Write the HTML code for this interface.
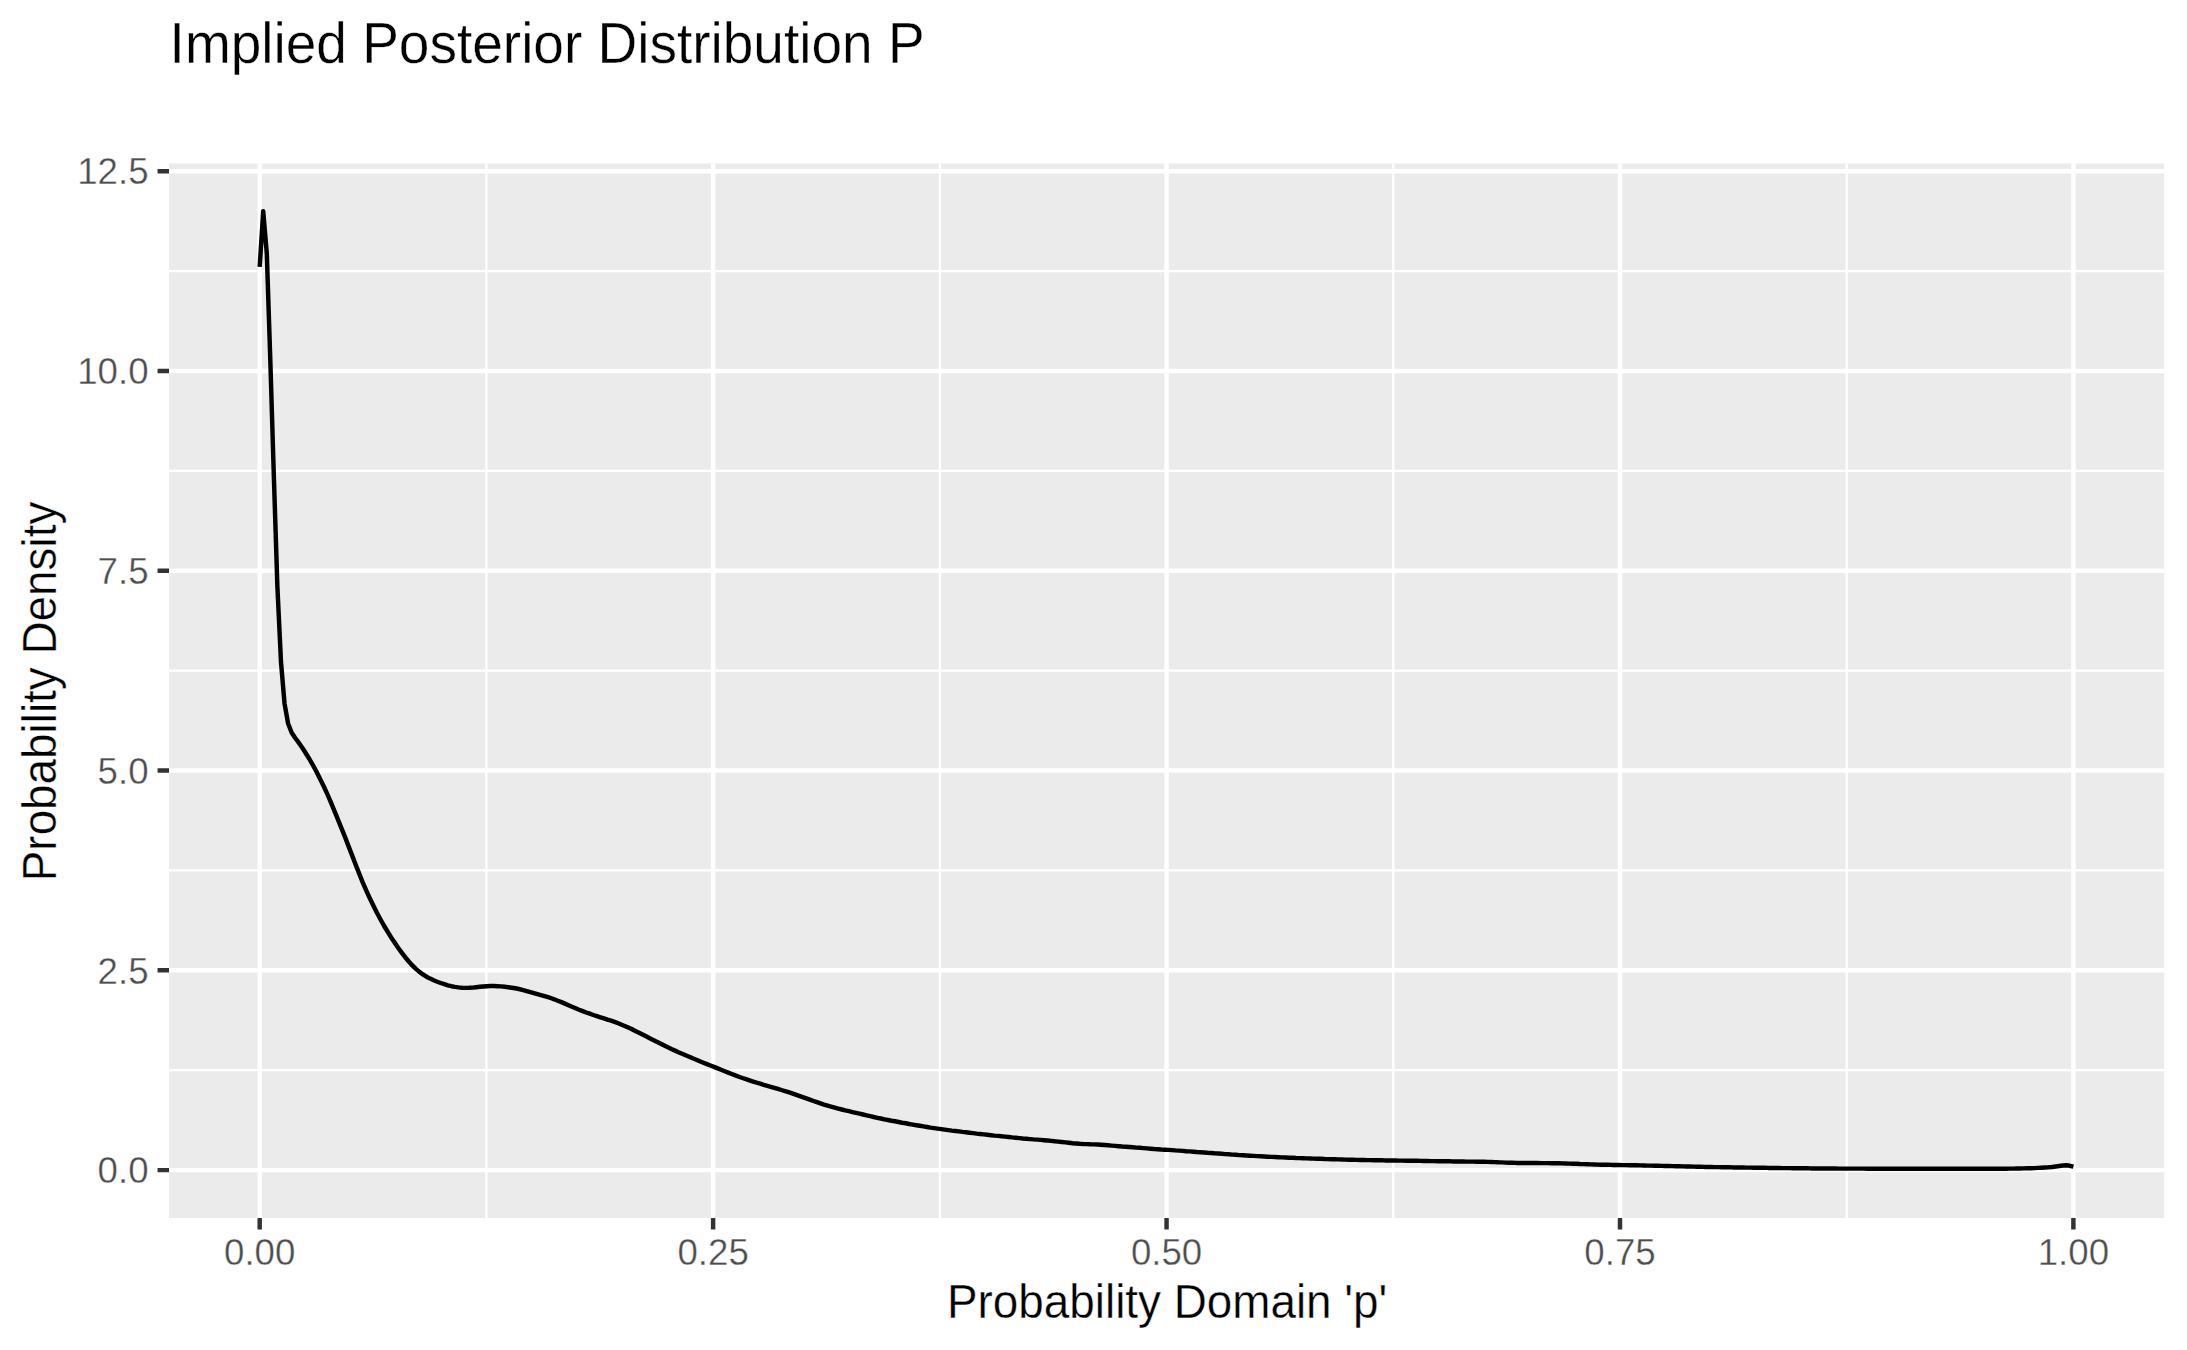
<!DOCTYPE html>
<html lang="en"><head><meta charset="utf-8"><title>Implied Posterior Distribution P</title>
<style>
html,body{margin:0;padding:0;background:#fff;}
svg{display:block;font-family:"Liberation Sans",sans-serif;}
</style></head><body>
<svg width="2187" height="1350" viewBox="0 0 2187 1350">
<rect width="2187" height="1350" fill="#fff"/>
<rect x="169.0" y="163.5" width="1995.1" height="1054.5" fill="#EBEBEB"/>
<path d="M169.0,1070.21H2164.1M169.0,870.43H2164.1M169.0,670.65H2164.1M169.0,470.87H2164.1M169.0,271.09H2164.1M486.41,163.5V1218.0M939.84,163.5V1218.0M1393.26,163.5V1218.0M1846.69,163.5V1218.0" stroke="#fff" stroke-width="2.22" fill="none"/>
<path d="M169.0,1170.10H2164.1M169.0,970.32H2164.1M169.0,770.54H2164.1M169.0,570.76H2164.1M169.0,370.98H2164.1M169.0,171.20H2164.1M259.70,163.5V1218.0M713.12,163.5V1218.0M1166.55,163.5V1218.0M1619.98,163.5V1218.0M2073.40,163.5V1218.0" stroke="#fff" stroke-width="4.45" fill="none"/>
<path d="M259.7,266.8 263.2,211.2 266.8,253.5 270.3,360.0 273.9,478.0 277.4,587.0 281.0,662.0 284.5,703.3 288.1,723.5 291.6,732.5 295.2,738.0 298.7,742.7 302.3,747.7 305.8,753.3 309.4,759.0 312.9,765.1 316.5,771.7 320.0,778.7 323.6,786.0 327.1,793.7 330.7,801.9 334.2,810.4 337.8,819.1 341.3,827.8 344.9,836.7 348.4,845.9 352.0,855.1 355.5,864.3 359.1,873.4 362.6,882.1 366.2,890.4 369.7,898.1 373.3,905.4 376.8,912.5 380.4,919.2 383.9,925.5 387.5,931.5 391.0,937.2 394.6,942.6 398.1,947.7 401.7,952.6 405.2,957.2 408.8,961.5 412.3,965.4 415.9,968.9 419.4,971.9 423.0,974.5 426.5,976.7 430.1,978.6 433.6,980.3 437.2,981.7 440.7,983.0 444.3,984.2 447.8,985.3 451.4,986.2 454.9,986.9 458.5,987.4 462.0,987.7 465.6,987.9 469.1,987.8 472.7,987.6 476.2,987.2 479.8,986.8 483.3,986.5 486.9,986.2 490.4,986.0 494.0,986.0 497.5,986.2 501.1,986.4 504.6,986.8 508.2,987.2 511.7,987.7 515.3,988.3 518.8,989.0 522.3,989.9 525.9,990.9 529.4,991.9 533.0,992.9 536.5,993.8 540.1,994.8 543.6,995.8 547.2,996.8 550.7,998.0 554.3,999.3 557.8,1000.7 561.4,1002.1 564.9,1003.6 568.5,1005.2 572.0,1006.7 575.6,1008.2 579.1,1009.7 582.7,1011.1 586.2,1012.5 589.8,1013.7 593.3,1015.0 596.9,1016.2 600.4,1017.3 604.0,1018.4 607.5,1019.6 611.1,1020.7 614.6,1021.9 618.2,1023.3 621.7,1024.7 625.3,1026.2 628.8,1027.8 632.4,1029.4 635.9,1031.2 639.5,1033.0 643.0,1034.8 646.6,1036.6 650.1,1038.4 653.7,1040.2 657.2,1041.9 660.8,1043.7 664.3,1045.5 667.9,1047.3 671.4,1049.0 675.0,1050.6 678.5,1052.2 682.1,1053.7 685.6,1055.2 689.2,1056.7 692.7,1058.3 696.3,1059.7 699.8,1061.2 703.4,1062.7 706.9,1064.1 710.5,1065.5 714.0,1066.9 717.6,1068.4 721.1,1069.8 724.7,1071.2 728.2,1072.6 731.8,1074.0 735.3,1075.3 738.9,1076.7 742.4,1078.0 746.0,1079.2 749.5,1080.4 753.1,1081.6 756.6,1082.7 760.2,1083.7 763.7,1084.8 767.3,1085.8 770.8,1086.8 774.4,1087.8 777.9,1088.9 781.4,1090.0 785.0,1091.1 788.5,1092.2 792.1,1093.4 795.6,1094.6 799.2,1095.9 802.7,1097.1 806.3,1098.4 809.8,1099.7 813.4,1101.0 816.9,1102.2 820.5,1103.4 824.0,1104.6 827.6,1105.7 831.1,1106.7 834.7,1107.7 838.2,1108.6 841.8,1109.5 845.3,1110.4 848.9,1111.2 852.4,1112.1 856.0,1112.9 859.5,1113.7 863.1,1114.5 866.6,1115.3 870.2,1116.1 873.7,1117.0 877.3,1117.8 880.8,1118.5 884.4,1119.3 887.9,1120.0 891.5,1120.7 895.0,1121.3 898.6,1122.0 902.1,1122.7 905.7,1123.3 909.2,1124.0 912.8,1124.6 916.3,1125.2 919.9,1125.8 923.4,1126.4 927.0,1127.0 930.5,1127.6 934.1,1128.1 937.6,1128.6 941.2,1129.1 944.7,1129.6 948.3,1130.1 951.8,1130.6 955.4,1131.0 958.9,1131.4 962.5,1131.9 966.0,1132.3 969.6,1132.7 973.1,1133.1 976.7,1133.6 980.2,1134.0 983.8,1134.4 987.3,1134.8 990.9,1135.2 994.4,1135.6 998.0,1135.9 1001.5,1136.3 1005.1,1136.6 1008.6,1137.0 1012.2,1137.4 1015.7,1137.7 1019.3,1138.1 1022.8,1138.5 1026.4,1138.8 1029.9,1139.1 1033.5,1139.4 1037.0,1139.6 1040.5,1139.9 1044.1,1140.2 1047.6,1140.5 1051.2,1140.9 1054.7,1141.3 1058.3,1141.6 1061.8,1142.0 1065.4,1142.4 1068.9,1142.8 1072.5,1143.2 1076.0,1143.5 1079.6,1143.8 1083.1,1144.0 1086.7,1144.1 1090.2,1144.3 1093.8,1144.4 1097.3,1144.5 1100.9,1144.7 1104.4,1145.0 1108.0,1145.3 1111.5,1145.6 1115.1,1145.9 1118.6,1146.2 1122.2,1146.5 1125.7,1146.7 1129.3,1147.0 1132.8,1147.3 1136.4,1147.6 1139.9,1147.8 1143.5,1148.1 1147.0,1148.4 1150.6,1148.7 1154.1,1149.0 1157.7,1149.2 1161.2,1149.5 1164.8,1149.7 1168.3,1149.9 1171.9,1150.1 1175.4,1150.4 1179.0,1150.6 1182.5,1150.9 1186.1,1151.2 1189.6,1151.4 1193.2,1151.7 1196.7,1152.0 1200.3,1152.2 1203.8,1152.5 1207.4,1152.8 1210.9,1153.0 1214.5,1153.3 1218.0,1153.5 1221.6,1153.8 1225.1,1154.1 1228.7,1154.3 1232.2,1154.6 1235.8,1154.8 1239.3,1155.1 1242.9,1155.3 1246.4,1155.5 1250.0,1155.7 1253.5,1155.9 1257.1,1156.1 1260.6,1156.3 1264.2,1156.5 1267.7,1156.7 1271.3,1156.9 1274.8,1157.0 1278.4,1157.2 1281.9,1157.4 1285.5,1157.5 1289.0,1157.7 1292.6,1157.8 1296.1,1158.0 1299.6,1158.1 1303.2,1158.2 1306.7,1158.4 1310.3,1158.5 1313.8,1158.6 1317.4,1158.7 1320.9,1158.8 1324.5,1159.0 1328.0,1159.1 1331.6,1159.2 1335.1,1159.3 1338.7,1159.4 1342.2,1159.5 1345.8,1159.6 1349.3,1159.7 1352.9,1159.8 1356.4,1159.9 1360.0,1160.0 1363.5,1160.0 1367.1,1160.1 1370.6,1160.1 1374.2,1160.2 1377.7,1160.3 1381.3,1160.3 1384.8,1160.4 1388.4,1160.4 1391.9,1160.5 1395.5,1160.5 1399.0,1160.6 1402.6,1160.6 1406.1,1160.7 1409.7,1160.7 1413.2,1160.8 1416.8,1160.8 1420.3,1160.9 1423.9,1161.0 1427.4,1161.0 1431.0,1161.1 1434.5,1161.1 1438.1,1161.2 1441.6,1161.2 1445.2,1161.3 1448.7,1161.3 1452.3,1161.4 1455.8,1161.4 1459.4,1161.5 1462.9,1161.5 1466.5,1161.6 1470.0,1161.6 1473.6,1161.6 1477.1,1161.7 1480.7,1161.7 1484.2,1161.8 1487.8,1161.9 1491.3,1162.0 1494.9,1162.1 1498.4,1162.3 1502.0,1162.4 1505.5,1162.6 1509.1,1162.7 1512.6,1162.8 1516.2,1162.9 1519.7,1162.9 1523.3,1162.9 1526.8,1163.0 1530.4,1163.0 1533.9,1163.0 1537.5,1163.0 1541.0,1163.1 1544.6,1163.1 1548.1,1163.1 1551.7,1163.2 1555.2,1163.2 1558.7,1163.3 1562.3,1163.4 1565.8,1163.5 1569.4,1163.6 1572.9,1163.7 1576.5,1163.8 1580.0,1164.0 1583.6,1164.1 1587.1,1164.2 1590.7,1164.4 1594.2,1164.5 1597.8,1164.6 1601.3,1164.7 1604.9,1164.7 1608.4,1164.8 1612.0,1164.9 1615.5,1164.9 1619.1,1165.0 1622.6,1165.1 1626.2,1165.1 1629.7,1165.2 1633.3,1165.3 1636.8,1165.3 1640.4,1165.4 1643.9,1165.5 1647.5,1165.6 1651.0,1165.6 1654.6,1165.7 1658.1,1165.8 1661.7,1165.9 1665.2,1166.0 1668.8,1166.0 1672.3,1166.1 1675.9,1166.2 1679.4,1166.3 1683.0,1166.4 1686.5,1166.5 1690.1,1166.5 1693.6,1166.6 1697.2,1166.7 1700.7,1166.8 1704.3,1166.9 1707.8,1166.9 1711.4,1167.0 1714.9,1167.1 1718.5,1167.1 1722.0,1167.2 1725.6,1167.3 1729.1,1167.3 1732.7,1167.4 1736.2,1167.4 1739.8,1167.5 1743.3,1167.5 1746.9,1167.6 1750.4,1167.6 1754.0,1167.7 1757.5,1167.7 1761.1,1167.8 1764.6,1167.8 1768.2,1167.9 1771.7,1167.9 1775.3,1168.0 1778.8,1168.0 1782.4,1168.1 1785.9,1168.1 1789.5,1168.1 1793.0,1168.2 1796.6,1168.2 1800.1,1168.2 1803.7,1168.3 1807.2,1168.3 1810.8,1168.4 1814.3,1168.4 1817.8,1168.4 1821.4,1168.4 1824.9,1168.5 1828.5,1168.5 1832.0,1168.5 1835.6,1168.5 1839.1,1168.6 1842.7,1168.6 1846.2,1168.6 1849.8,1168.6 1853.3,1168.6 1856.9,1168.6 1860.4,1168.6 1864.0,1168.6 1867.5,1168.7 1871.1,1168.7 1874.6,1168.7 1878.2,1168.7 1881.7,1168.7 1885.3,1168.7 1888.8,1168.7 1892.4,1168.7 1895.9,1168.7 1899.5,1168.7 1903.0,1168.7 1906.6,1168.7 1910.1,1168.8 1913.7,1168.8 1917.2,1168.8 1920.8,1168.8 1924.3,1168.8 1927.9,1168.8 1931.4,1168.8 1935.0,1168.8 1938.5,1168.8 1942.1,1168.8 1945.6,1168.8 1949.2,1168.8 1952.7,1168.8 1956.3,1168.8 1959.8,1168.8 1963.4,1168.8 1966.9,1168.8 1970.5,1168.8 1974.0,1168.8 1977.6,1168.8 1981.1,1168.8 1984.7,1168.8 1988.2,1168.7 1991.8,1168.7 1995.3,1168.7 1998.9,1168.7 2002.4,1168.7 2006.0,1168.7 2009.5,1168.6 2013.1,1168.6 2016.6,1168.5 2020.2,1168.5 2023.7,1168.4 2027.3,1168.3 2030.8,1168.2 2034.4,1168.1 2037.9,1167.9 2041.5,1167.7 2045.0,1167.5 2048.6,1167.3 2052.1,1167.0 2055.7,1166.5 2059.2,1166.0 2062.8,1165.5 2066.3,1165.3 2069.9,1165.8 2073.4,1166.7" fill="none" stroke="#000" stroke-width="4.45" stroke-linejoin="round" stroke-linecap="butt"/>
<path d="M157.54,1170.10H169.0M157.54,970.32H169.0M157.54,770.54H169.0M157.54,570.76H169.0M157.54,370.98H169.0M157.54,171.20H169.0M259.70,1218.0V1229.46M713.12,1218.0V1229.46M1166.55,1218.0V1229.46M1619.98,1218.0V1229.46M2073.40,1218.0V1229.46" stroke="#333" stroke-width="4.45" fill="none"/>
<text transform="translate(148.54,1183.30) scale(1,0.99)" text-anchor="end" font-size="36.67" fill="#4D4D4D" stroke="#fff" stroke-width="0.35">0.0</text>
<text transform="translate(148.54,983.52) scale(1,0.99)" text-anchor="end" font-size="36.67" fill="#4D4D4D" stroke="#fff" stroke-width="0.35">2.5</text>
<text transform="translate(148.54,783.74) scale(1,0.99)" text-anchor="end" font-size="36.67" fill="#4D4D4D" stroke="#fff" stroke-width="0.35">5.0</text>
<text transform="translate(148.54,583.96) scale(1,0.99)" text-anchor="end" font-size="36.67" fill="#4D4D4D" stroke="#fff" stroke-width="0.35">7.5</text>
<text transform="translate(148.54,384.18) scale(1,0.99)" text-anchor="end" font-size="36.67" fill="#4D4D4D" stroke="#fff" stroke-width="0.35">10.0</text>
<text transform="translate(148.54,184.40) scale(1,0.99)" text-anchor="end" font-size="36.67" fill="#4D4D4D" stroke="#fff" stroke-width="0.35">12.5</text>
<text transform="translate(259.70,1265.20) scale(1,0.99)" text-anchor="middle" font-size="36.67" fill="#4D4D4D" stroke="#fff" stroke-width="0.35">0.00</text>
<text transform="translate(713.12,1265.20) scale(1,0.99)" text-anchor="middle" font-size="36.67" fill="#4D4D4D" stroke="#fff" stroke-width="0.35">0.25</text>
<text transform="translate(1166.55,1265.20) scale(1,0.99)" text-anchor="middle" font-size="36.67" fill="#4D4D4D" stroke="#fff" stroke-width="0.35">0.50</text>
<text transform="translate(1619.98,1265.20) scale(1,0.99)" text-anchor="middle" font-size="36.67" fill="#4D4D4D" stroke="#fff" stroke-width="0.35">0.75</text>
<text transform="translate(2073.40,1265.20) scale(1,0.99)" text-anchor="middle" font-size="36.67" fill="#4D4D4D" stroke="#fff" stroke-width="0.35">1.00</text>
<text transform="translate(1167.15,1317.70) scale(1,1.04)" text-anchor="middle" font-size="45.83" fill="#000" stroke="#fff" stroke-width="0.35">Probability Domain 'p'</text>
<text transform="translate(56.10,691.45) rotate(-90) scale(1,1.04)" text-anchor="middle" font-size="45.83" fill="#000" stroke="#fff" stroke-width="0.35">Probability Density</text>
<text transform="translate(169.60,63.00) scale(1,1.04)" text-anchor="start" font-size="55" fill="#000" stroke="#fff" stroke-width="0.35">Implied Posterior Distribution P</text>
</svg>
</body></html>
